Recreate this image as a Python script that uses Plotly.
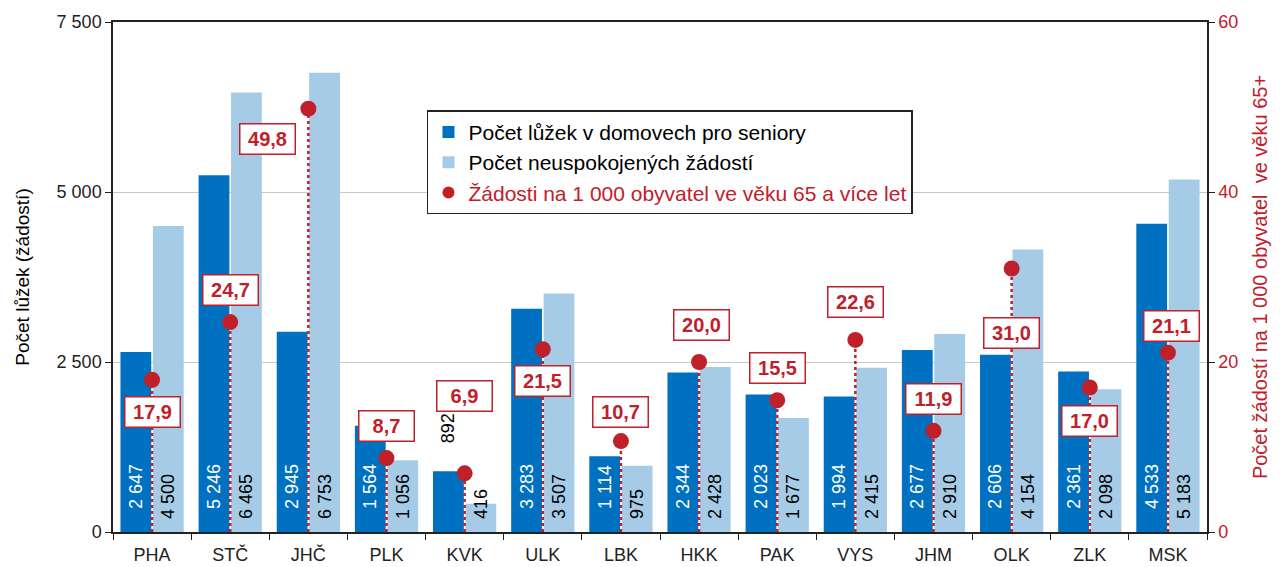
import plotly.graph_objects as go

categories = ["PHA", "STČ", "JHČ", "PLK", "KVK", "ULK", "LBK", "HKK", "PAK", "VYS", "JHM", "OLK", "ZLK", "MSK"]
beds = [2647, 5246, 2945, 1564, 892, 3283, 1114, 2344, 2023, 1994, 2677, 2606, 2361, 4533]
requests = [4500, 6465, 6753, 1056, 416, 3507, 975, 2428, 1677, 2415, 2910, 4154, 2098, 5183]
rate = [17.9, 24.7, 49.8, 8.7, 6.9, 21.5, 10.7, 20.0, 15.5, 22.6, 11.9, 31.0, 17.0, 21.1]
left_ticks = [0, 2500, 5000, 7500]
left_tick_text = ["0", "2 500", "5 000", "7 500"]
right_ticks = [0, 20, 40, 60]

# label offsets (pixels) for rate boxes
label_dx = [0, 0, -41, 0, 0, 0, 0, 2, 0, 0, 0, 0, 0, 4]
label_dy = [-32, 32, -30, 32, 77, -32, 29, 37, 32, 38, 32, -64, -33, 27]

DARK = "#0070c0"
LIGHT = "#a5cbe7"
RED = "#c0202a"
FONT = "Liberation Sans, Arial, sans-serif"
NB = "\u00a0"


def fmt_int(v):
    return f"{v:,}".replace(",", " ")


def fmt_dec(v):
    return f"{v:.1f}".replace(".", ",")


fig = go.Figure()

fig.add_trace(go.Bar(
    x=categories, y=beds, name="Počet lůžek v domovech pro seniory",
    marker=dict(color=DARK, line=dict(width=0)),
    text=[(NB * 5 if v < 1000 else NB * 4) + fmt_int(v) for v in beds],
    textposition=["outside" if v < 1000 else "inside" for v in beds],
    insidetextanchor="start", textangle=-90, constraintext="none",
    insidetextfont=dict(color="white", size=18, family=FONT),
    outsidetextfont=dict(color="black", size=18, family=FONT),
    cliponaxis=False,
))
fig.add_trace(go.Bar(
    x=categories, y=requests, name="Počet neuspokojených žádostí",
    marker=dict(color=LIGHT, line=dict(width=0)),
    text=[NB * 2 + fmt_int(v) for v in requests],
    textposition="inside",
    insidetextanchor="start", textangle=-90, constraintext="none",
    insidetextfont=dict(color="black", size=18, family=FONT),
    cliponaxis=False,
))

# drop lines
dx, dy = [], []
for c, r in zip(categories, rate):
    dx += [c, c, None]
    dy += [0, r, None]
fig.add_trace(go.Scatter(
    x=dx, y=dy, yaxis="y2", mode="lines",
    line=dict(color=RED, width=2.5, dash="dot"),
    showlegend=False, hoverinfo="skip",
))
fig.add_trace(go.Scatter(
    x=categories, y=rate, yaxis="y2", mode="markers",
    name=f"<span style='color:{RED}'>Žádosti na 1 000 obyvatel ve věku 65 a více let</span>",
    marker=dict(color=RED, size=16),
))

for c, r, ddx, ddy in zip(categories, rate, label_dx, label_dy):
    fig.add_annotation(
        x=c, y=r, yref="y2", text=f"<b>{fmt_dec(r)}</b>", showarrow=False,
        xshift=ddx, yshift=ddy, width=46, height=21,
        font=dict(color=RED, size=20, family=FONT),
        bgcolor="white", bordercolor=RED, borderwidth=1.5, borderpad=4,
    )

fig.update_layout(
    width=1280, height=567,
    margin=dict(l=105, r=81, t=14, b=43),
    paper_bgcolor="white", plot_bgcolor="white",
    font=dict(family=FONT, size=18, color="black"),
    barmode="group", bargap=0.17, bargroupgap=0.05,
    showlegend=True,
    legend=dict(
        x=0.287, y=0.827, xanchor="left", yanchor="top",
        bgcolor="white", bordercolor="#222", borderwidth=1.5,
        font=dict(size=21, family=FONT, color="black"),
        traceorder="normal", itemsizing="constant",
    ),
    xaxis=dict(
        range=[-0.5, 13.5], automargin=False,
        showline=True, linecolor="#222", linewidth=1.5, mirror=True,
        ticks="outside", tickson="boundaries", ticklen=6, tickcolor="#222",
        tickfont=dict(size=18, color="#222"), showgrid=False, ticklabelstandoff=6,
    ),
    yaxis=dict(
        range=[0, 7500], tickvals=left_ticks, ticktext=left_tick_text, automargin=False,
        showline=True, linecolor="#222", linewidth=1.5,
        ticks="outside", ticklen=6, tickcolor="#222",
        showgrid=True, gridcolor="#c8c8c8", gridwidth=1,
        tickfont=dict(size=18, color="#222"),
        title=dict(text="Počet lůžek (žádostí)", font=dict(size=19, color="black"), standoff=22),
        zeroline=False,
    ),
    yaxis2=dict(
        range=[0, 60], tickvals=right_ticks, overlaying="y", side="right", automargin=False,
        showline=True, linecolor="#222", linewidth=1.5,
        ticks="outside", ticklen=6, tickcolor="#222",
        showgrid=False, zeroline=False,
        tickfont=dict(size=18, color=RED),
        title=dict(text="Počet žádostí na 1 000 obyvatel  ve věku 65+", font=dict(size=20, color=RED), standoff=16),
    ),
)

fig.write_html("out.html")
